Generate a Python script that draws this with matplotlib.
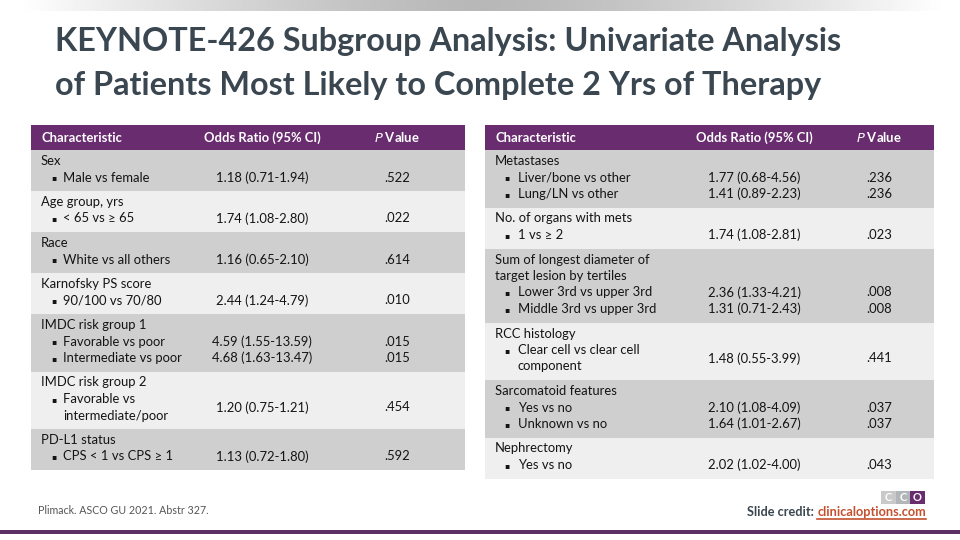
import numpy as np
import matplotlib.pyplot as plt
from matplotlib.patches import Rectangle

plt.rcParams['font.family'] = ['Lato', 'DejaVu Sans']

# ---- data ----
left_groups = ["Sex", "Age group, yrs", "Race", "Karnofsky PS score",
               "IMDC risk group 1", "IMDC risk group 2", "PD-L1 status"]
left_items = [[["Male vs female"]],
              [["< 65 vs \u2265 65"]],
              [["White vs all others"]],
              [["90/100 vs 70/80"]],
              [["Favorable vs poor"], ["Intermediate vs poor"]],
              [["Favorable vs", "intermediate/poor"]],
              [["CPS < 1 vs CPS \u2265 1"]]]
left_or = [["1.18 (0.71-1.94)"], ["1.74 (1.08-2.80)"], ["1.16 (0.65-2.10)"],
           ["2.44 (1.24-4.79)"], ["4.59 (1.55-13.59)", "4.68 (1.63-13.47)"],
           ["1.20 (0.75-1.21)"], ["1.13 (0.72-1.80)"]]
left_p = [[".522"], [".022"], [".614"], [".010"], [".015", ".015"],
          [".454"], [".592"]]

right_groups = ["Metastases", "No. of organs with mets",
                "Sum of longest diameter of\ntarget lesion by tertiles",
                "RCC histology", "Sarcomatoid features", "Nephrectomy"]
right_items = [[["Liver/bone vs other"], ["Lung/LN vs other"]],
               [["1 vs \u2265 2"]],
               [["Lower 3rd vs upper 3rd"], ["Middle 3rd vs upper 3rd"]],
               [["Clear cell vs clear cell", "component"]],
               [["Yes vs no"], ["Unknown vs no"]],
               [["Yes vs no"]]]
right_or = [["1.77 (0.68-4.56)", "1.41 (0.89-2.23)"], ["1.74 (1.08-2.81)"],
            ["2.36 (1.33-4.21)", "1.31 (0.71-2.43)"], ["1.48 (0.55-3.99)"],
            ["2.10 (1.08-4.09)", "1.64 (1.01-2.67)"], ["2.02 (1.02-4.00)"]]
right_p = [[".236", ".236"], [".023"], [".008", ".008"], [".441"],
           [".037", ".037"], [".043"]]

# ---- style ----
purple = '#682c6f'
gray_row = '#cfcfcf'
light_row = '#efefef'
txt = '#141414'
title_col = '#3a4650'
fs = 9.4
line_h = 16.5
pad = 8

fig = plt.figure(figsize=(9.6, 5.4), dpi=100)
ax = fig.add_axes([0, 0, 1, 1])
ax.set_xlim(0, 960)
ax.set_ylim(540, 0)
ax.axis('off')

# top gradient bar
grad = np.linspace(-1, 1, 400)
shade = 1 - 0.28 * np.clip(1 - np.abs(grad) ** 1.4, 0, 1)
ax.imshow(np.tile(shade, (2, 1)), cmap='gray', vmin=0, vmax=1, aspect='auto',
          extent=(20, 945, 11, 0), zorder=1)

ax.text(55, 42, "KEYNOTE-426 Subgroup Analysis: Univariate Analysis",
        fontsize=23.3, fontweight='bold', color=title_col, va='center')
ax.text(55, 86, "of Patients Most Likely to Complete 2 Yrs of Therapy",
        fontsize=23.3, fontweight='bold', color=title_col, va='center')


def draw_table(x0, x1, xtext, xbul, xitem, xor, xp, groups, items, ors, ps):
    ax.add_patch(Rectangle((x0, 125), x1 - x0, 25, color=purple, lw=0))
    ax.text(xtext, 137.5, "Characteristic", color='white', fontsize=fs,
            fontweight='bold', va='center')
    ax.text(xor, 137.5, "Odds Ratio (95% CI)", color='white', fontsize=fs,
            fontweight='bold', va='center', ha='center')
    ax.text(xp, 137.5, r"$\it{P}$ Value", color='white', fontsize=fs,
            fontweight='bold', va='center', ha='center')
    top = 150
    for i, g in enumerate(groups):
        glines = g.split('\n')
        nlines = len(glines) + sum(len(it) for it in items[i])
        h = pad + line_h * nlines
        ax.add_patch(Rectangle((x0, top), x1 - x0, h,
                               color=gray_row if i % 2 == 0 else light_row, lw=0))
        y = top + 11
        for gl in glines:
            ax.text(xtext, y, gl, fontsize=fs, color=txt, va='center')
            y += line_h
        for it, o, p in zip(items[i], ors[i], ps[i]):
            ax.text(xbul, y + 0.5, "\u25aa", fontsize=5.5, color=txt, va='center',
                    ha='center', family='DejaVu Sans')
            ymid = y + line_h * (len(it) - 1) / 2
            for ln in it:
                ax.text(xitem, y, ln, fontsize=fs, color=txt, va='center')
                y += line_h
            ax.text(xor, ymid, o, fontsize=fs, color=txt, va='center', ha='center')
            ax.text(xp, ymid, p, fontsize=fs, color=txt, va='center', ha='center')
        top += h


draw_table(31, 465, 41, 54, 63, 262, 397,
           left_groups, left_items, left_or, left_p)
draw_table(485, 934, 495, 507, 518, 754, 879,
           right_groups, right_items, right_or, right_p)

# footer
ax.text(38, 510, "Plimack. ASCO GU 2021. Abstr 327.", fontsize=7.7, color='#555555',
        va='center')
ax.add_patch(Rectangle((0, 530), 960, 3.5, color='#5c3065', lw=0))

# CCO logo
for k, (c, l) in enumerate([('#c9c9c9', 'C'), ('#b3b6b9', 'C'), (purple, 'O')]):
    ax.add_patch(Rectangle((881 + k * 14.5, 491), 14.5, 13, color=c, lw=0))
    ax.text(881 + k * 14.5 + 7.25, 497.5, l, color='white', fontsize=8,
            fontweight='bold', ha='center', va='center')

t2 = ax.text(926, 512, "clinicaloptions.com", fontsize=9.2, color='#c4502e',
             fontweight='bold', ha='right', va='center')
fig.canvas.draw()
bb = t2.get_window_extent().transformed(ax.transData.inverted())
ax.plot([bb.x0, bb.x1], [519, 519], color='#c4502e', lw=1.2)
ax.text(bb.x0 - 3, 512, "Slide credit:", fontsize=9.2, color=title_col,
        fontweight='bold', ha='right', va='center')

fig.savefig('out.png', dpi=100)
